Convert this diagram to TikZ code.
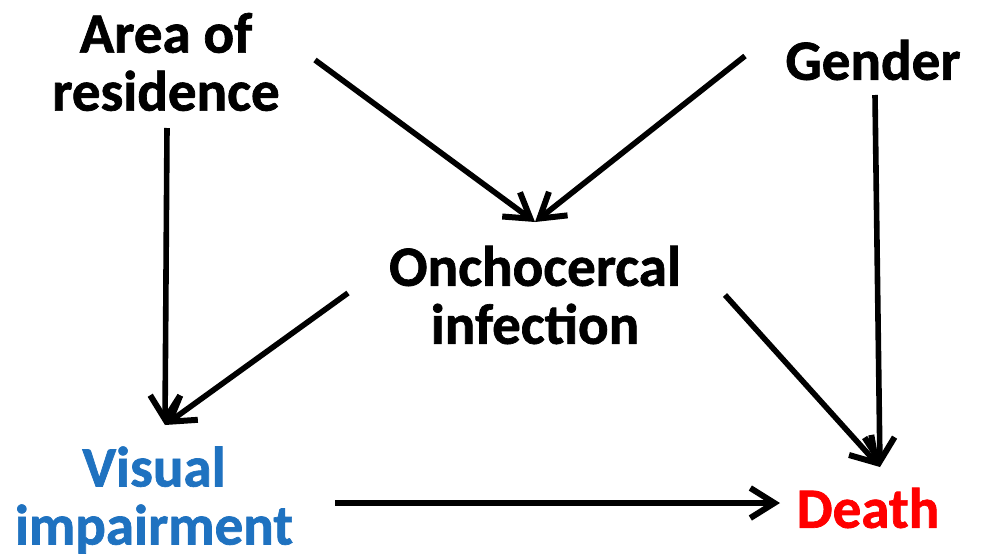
\documentclass[tikz,border=0pt]{standalone}
\usepackage{fontspec}
\setmainfont{Carlito}[BoldFeatures={FakeBold=1.2}]
\usetikzlibrary{arrows.meta}
\definecolor{vblue}{HTML}{1F72C0}
\definecolor{dred}{HTML}{FF0000}
\begin{document}
\begin{tikzpicture}[x=1pt,y=-1pt,
  lbl/.style={align=center,font=\fontsize{57}{58}\selectfont\bfseries,inner sep=0pt},
  conn/.style={line width=5.6pt,-{Straight Barb[length=24pt,width=30pt,line width=6pt]}}]
\useasboundingbox[fill=white] (0,0) rectangle (989,557);
\node[lbl] (area) at (166,62) {Area of\\residence};
\node[lbl] (gender) at (873,60) {Gender};
\node[lbl] (onch) at (535,295) {Onchocercal\\infection};
\node[lbl,text=vblue] (vis) at (154,500) {Visual\\impairment};
\node[lbl,text=dred] (death) at (868,508) {Death};
\draw[conn] ([shift={(149,-2)}]area.center) -- ([shift={(0,-73)}]onch.center);
\draw[conn] ([shift={(-128,-4)}]gender.center) -- ([shift={(0,-73)}]onch.center);
\draw[conn] ([shift={(1,66)}]area.center) -- ([shift={(11,-75)}]vis.center);
\draw[conn] ([shift={(-187,-2)}]onch.center) -- ([shift={(11,-75)}]vis.center);
\draw[conn] ([shift={(2,35)}]gender.center) -- ([shift={(12,-41)}]death.center);
\draw[conn] ([shift={(190,0)}]onch.center) -- ([shift={(12,-41)}]death.center);
\draw[conn] ([shift={(181,3)}]vis.center) -- ([shift={(-88,-5)}]death.center);
\end{tikzpicture}
\end{document}
